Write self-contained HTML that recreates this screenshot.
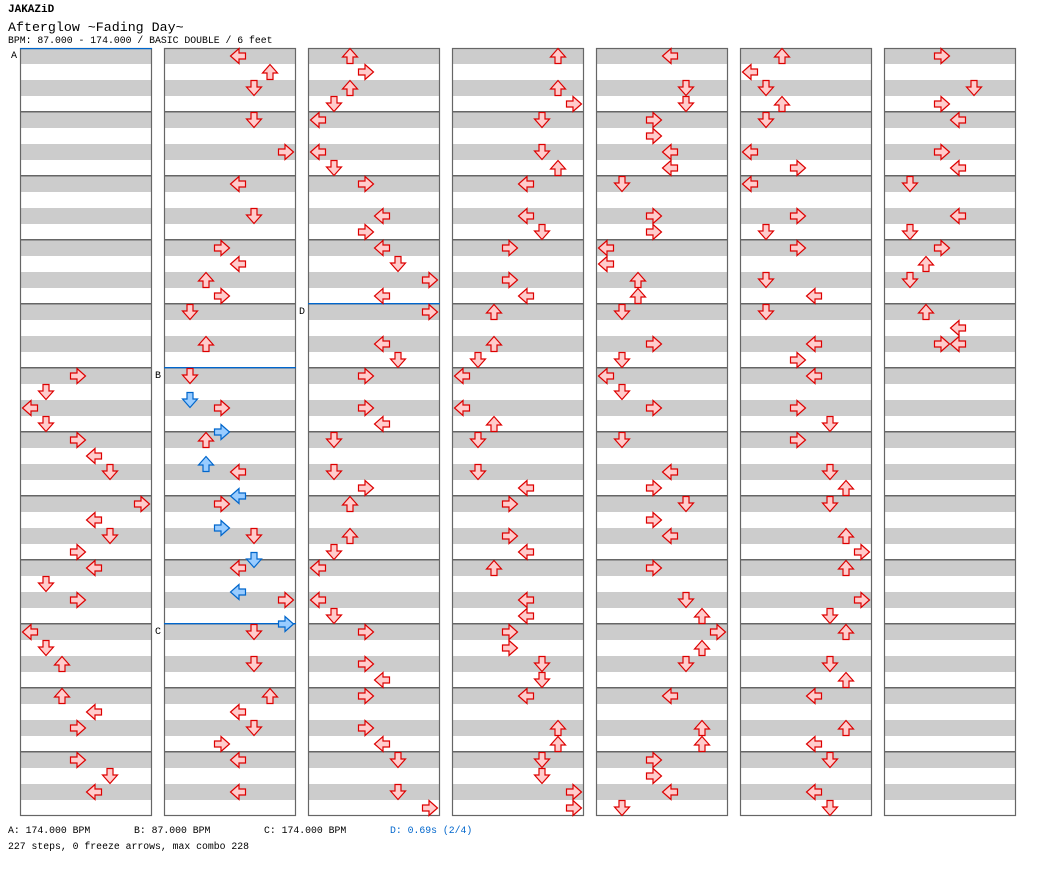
<!DOCTYPE html>
<html><head><meta charset="utf-8"><style>
body{margin:0;background:#fff;width:1040px;height:876px;overflow:hidden;position:relative;font-family:"Liberation Mono",monospace;color:#000}
.t{position:absolute;white-space:pre;line-height:1}
</style></head><body>
<div class="t" style="left:8px;top:5px;font-size:11px;font-weight:bold">JAKAZiD</div>
<div class="t" style="left:8px;top:21px;font-size:13.3px">Afterglow ~Fading Day~</div>
<div class="t" style="left:8px;top:36px;font-size:9.8px">BPM: 87.000 - 174.000 / BASIC DOUBLE / 6 feet</div>
<div class="t" style="left:8px;top:826px;font-size:9.8px">A: 174.000 BPM</div>
<div class="t" style="left:134px;top:826px;font-size:9.8px">B: 87.000 BPM</div>
<div class="t" style="left:264px;top:826px;font-size:9.8px">C: 174.000 BPM</div>
<div class="t" style="left:390px;top:826px;font-size:9.8px;color:#0066cc">D: 0.69s (2/4)</div>
<div class="t" style="left:8px;top:842px;font-size:9.8px">227 steps, 0 freeze arrows, max combo 228</div>
<svg id="s" width="1040" height="876" style="position:absolute;left:0;top:0" xmlns="http://www.w3.org/2000/svg">
<text x="11" y="58" font-family="Liberation Mono" font-size="10">A</text>
<text x="155" y="378" font-family="Liberation Mono" font-size="10">B</text>
<text x="155" y="634" font-family="Liberation Mono" font-size="10">C</text>
<text x="299" y="314" font-family="Liberation Mono" font-size="10">D</text>
</svg>
<script>
var s=document.getElementById('s'),NS='http://www.w3.org/2000/svg';
function el(n,a){var e=document.createElementNS(NS,n);for(var k in a)e.setAttribute(k,a[k]);s.appendChild(e);return e;}
var data=[
"20:3,21:1,22:0,23:1,24:3,25:4,26:5,28:7,29:4,30:5,31:3,32:4,33:1,34:3,36:0,37:1,38:2,40:2,41:4,42:3,44:3,45:5,46:4",
"0:4,1:6,2:5,4:5,6:7,8:4,10:5,12:3,13:4,14:2,15:3,16:1,18:2,20:1,21.5:1b,22:3,23.5:3b,24:2,25.5:2b,26:4,27.5:4b,28:3,29.5:3b,30:5,31.5:5b,32:4,33.5:4b,34:7,35.5:7b,36:5,38:5,40:6,41:4,42:5,43:3,44:4,46:4",
"0:2,1:3,2:2,3:1,4:0,6:0,7:1,8:3,10:4,11:3,12:4,13:5,14:7,15:4,16:7,18:4,19:5,20:3,22:3,23:4,24:1,26:1,27:3,28:2,30:2,31:1,32:0,34:0,35:1,36:3,38:3,39:4,40:3,42:3,43:4,44:5,46:5,47:7",
"0:6,2:6,3:7,4:5,6:5,7:6,8:4,10:4,11:5,12:3,14:3,15:4,16:2,18:2,19:1,20:0,22:0,23:2,24:1,26:1,27:4,28:3,30:3,31:4,32:2,34:4,35:4,36:3,37:3,38:5,39:5,40:4,42:6,43:6,44:5,45:5,46:7,47:7",
"0:4,2:5,3:5,4:3,5:3,6:4,7:4,8:1,10:3,11:3,12:0,13:0,14:2,15:2,16:1,18:3,19:1,20:0,21:1,22:3,24:1,26:4,27:3,28:5,29:3,30:4,32:3,34:5,35:6,36:7,37:6,38:5,40:4,42:6,43:6,44:3,45:3,46:4,47:1",
"0:2,1:0,2:1,3:2,4:1,6:0,7:3,8:0,10:3,11:1,12:3,14:1,15:4,16:1,18:4,19:3,20:4,22:3,23:5,24:3,26:5,27:6,28:5,30:6,31:7,32:6,34:7,35:5,36:6,38:5,39:6,40:4,42:6,43:4,44:5,46:4,47:5",
"0:3,2:5,3:3,4:4,6:3,7:4,8:1,10:4,11:1,12:3,13:2,14:1,16:2,17:4,18:3,18:4"];
var rot=[90,0,180,270];
for(var c=0;c<7;c++){
 var x=20+144*c;
 el('rect',{x:x,y:48,width:132,height:768,fill:'#fff'});
 for(var r=0;r<48;r+=2) el('rect',{x:x,y:48+16*r,width:132,height:16,fill:'#cccccc'});
 for(var m=1;m<12;m++) el('rect',{x:x,y:48+64*m-1,width:132,height:1.5,fill:'#666'});
 el('rect',{x:x+0.5,y:48.5,width:131,height:767,fill:'none',stroke:'#666','stroke-width':1.2});
}
el('rect',{x:20,y:48,width:132,height:1.2,fill:'#0066cc'});
el('rect',{x:164,y:367,width:132,height:1.3,fill:'#0066cc'});
el('rect',{x:164,y:623,width:132,height:1.3,fill:'#0066cc'});
el('rect',{x:308,y:303,width:132,height:1.3,fill:'#0066cc'});
var P='M-3,-7.5H3V-1H7.5L0,7.5L-7.5,-1H-3Z';
for(var c=0;c<7;c++){
 data[c].split(',').forEach(function(t){
  var p=t.split(':'),k=parseFloat(p[0]),b=p[1].indexOf('b')>=0,l=parseInt(p[1]);
  var cx=20+144*c+10+16*l,cy=56+16*k;
  el('path',{d:P,transform:'translate('+cx+','+cy+') rotate('+rot[l%4]+')',fill:b?'#99ccff':'#ffcccc',stroke:b?'#0066cc':'#dd0000','stroke-width':1.2,'stroke-linejoin':'miter'});
 });
}
</script>
</body></html>
